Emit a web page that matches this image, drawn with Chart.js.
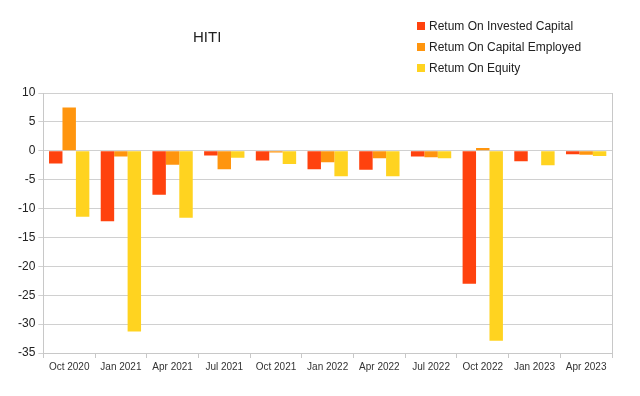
<!DOCTYPE html>
<html>
<head>
<meta charset="utf-8">
<script src="https://cdn.jsdelivr.net/npm/chart.js@4/dist/chart.umd.min.js"></script>
<style>
  body { margin: 0; background: #fff; font-family: "Liberation Sans", Arial, sans-serif; }
  #wrap { position: relative; width: 640px; height: 396px; }
  #title { position: absolute; left: 193px; top: 28px; font-size: 15px; color: #222; }
  #legend { position: absolute; left: 417px; top: 17px; font-size: 12px; color: #222; }
  #legend div { height: 21px; line-height: 18px; white-space: nowrap; }
  #legend span { display: inline-block; width: 8px; height: 8px; margin-right: 4px; vertical-align: 0px; }
</style>
</head>
<body>
<div id="wrap">
  <canvas id="chart" width="640" height="396"></canvas>
  <div id="title">HITI</div>
  <div id="legend"></div>
</div>
<script>
// trimestres
const quarters = ['Oct 2020', 'Jan 2021', 'Apr 2021', 'Jul 2021', 'Oct 2021', 'Jan 2022',
                  'Apr 2022', 'Jul 2022', 'Oct 2022', 'Jan 2023', 'Apr 2023'];

// valeurs (%)
const roic = [-2.2, -12.2, -7.6, -0.8, -1.7, -3.2, -3.3, -1.0, -23.0, -1.8, -0.6];
const roce = [7.5, -1.0, -2.4, -3.2, -0.3, -2.0, -1.3, -1.1, 0.5, 0, -0.7];
const roe = [-11.4, -31.3, -11.6, -1.2, -2.3, -4.4, -4.4, -1.3, -32.9, -2.5, -0.9];

const yTicks = [10, 5, 0, -5, -10, -15, -20, -25, -30, -35];

const datasets = [
    { label: 'Retum On Invested Capital', data: roic, backgroundColor: '#ff420e' },
    { label: 'Retum On Capital Employed', data: roce, backgroundColor: '#ff950e' },
    { label: 'Retum On Equity', data: roe, backgroundColor: '#ffd320' }
];

// légende en HTML
const legendEl = document.getElementById('legend');
datasets.forEach(ds => {
    const row = document.createElement('div');
    row.innerHTML = '<span style="background:' + ds.backgroundColor + '"></span>' + ds.label;
    legendEl.appendChild(row);
});

// bordure droite de la zone de tracé
const rightBorder = {
    id: 'rightBorder',
    afterDraw(chart) {
        const a = chart.chartArea;
        const c = chart.ctx;
        c.save();
        c.strokeStyle = '#c8c8c8';
        c.lineWidth = 1;
        c.beginPath();
        c.moveTo(Math.round(a.right) + 0.5, a.top);
        c.lineTo(Math.round(a.right) + 0.5, a.bottom + 5);
        c.stroke();
        c.restore();
    }
};

new Chart(document.getElementById('chart'), {
    type: 'bar',
    data: { labels: quarters, datasets: datasets },
    options: {
        responsive: false,
        animation: false,
        layout: { padding: { top: 93, right: 28, bottom: 20, left: 15 } },
        datasets: { bar: { categoryPercentage: 0.78, barPercentage: 1 } },
        plugins: { legend: { display: false }, tooltip: { enabled: false } },
        scales: {
            x: {
                grid: { drawOnChartArea: false, tickLength: 5, color: '#c8c8c8', offset: true },
                border: { color: '#c8c8c8' },
                ticks: { color: '#333', font: { family: 'Liberation Sans', size: 10 }, maxRotation: 0, padding: 3 }
            },
            y: {
                min: -35,
                max: 10,
                afterBuildTicks: axis => { axis.ticks = yTicks.map(v => ({ value: v })); },
                grid: { color: '#d0d0d0', tickLength: 5 },
                border: { color: '#c8c8c8' },
                ticks: { color: '#222', font: { family: 'Liberation Sans', size: 12 }, padding: 3 }
            }
        }
    },
    plugins: [rightBorder]
});
</script>
</body>
</html>
